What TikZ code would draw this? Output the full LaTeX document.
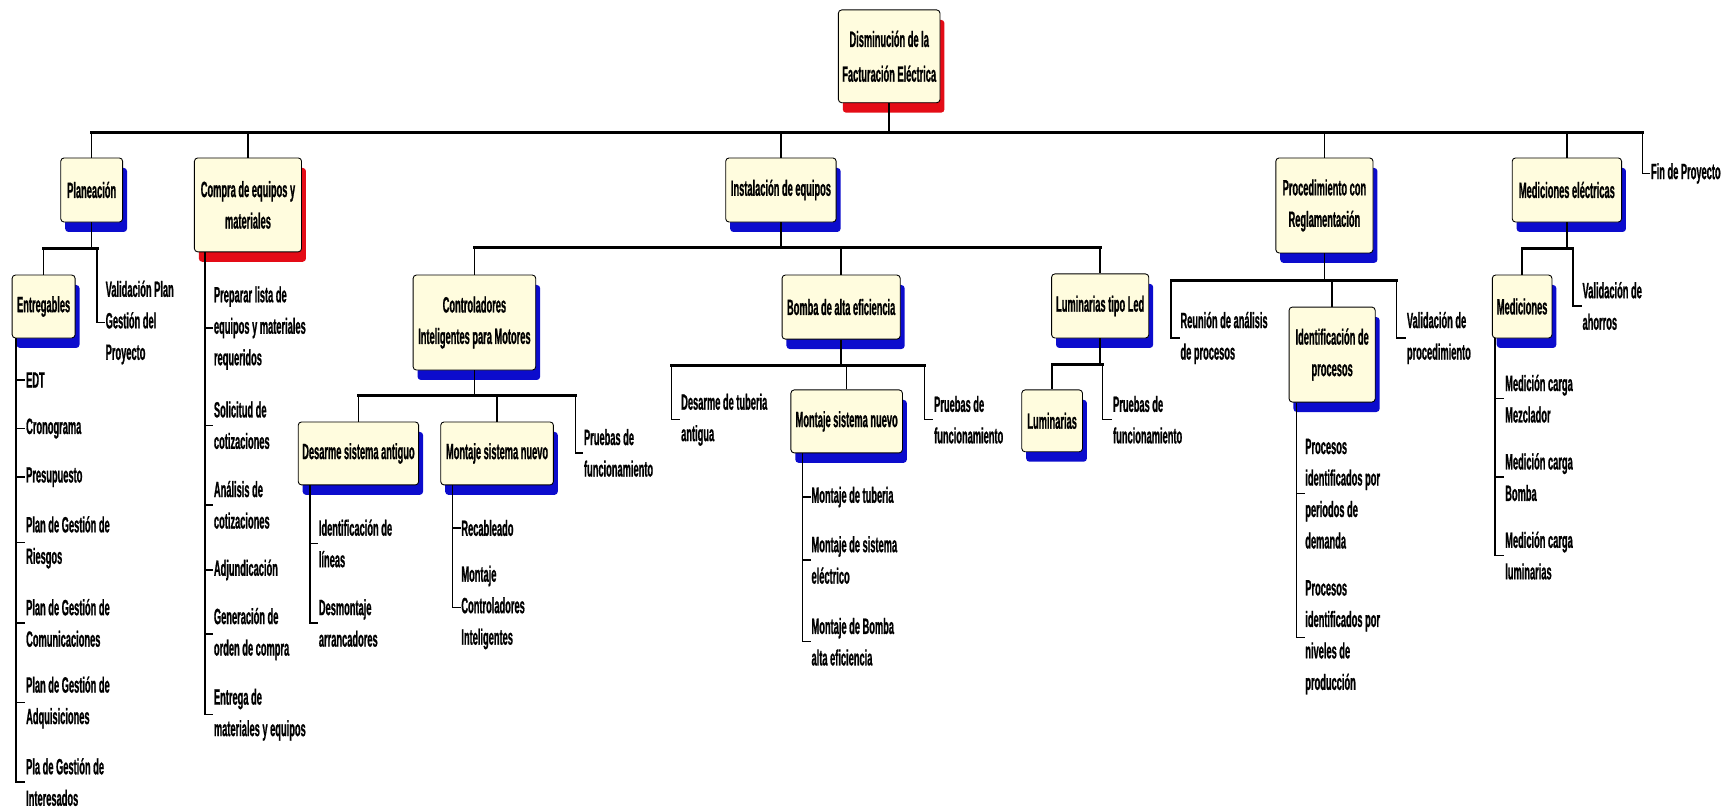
\documentclass[tikz,border=0pt]{standalone}
\usepackage{fontspec}
\newfontfamily\wbs{Liberation Sans}[FakeStretch=0.42, BoldFeatures={FakeBold=0.8}]
\usetikzlibrary{shadows}
\definecolor{cream}{RGB}{255,252,222}
\definecolor{shblue}{RGB}{12,12,205}
\definecolor{shred}{RGB}{228,12,22}
\begin{document}
\begin{tikzpicture}[x=1pt,y=-1pt,
  txt/.style={font=\wbs\bfseries\fontsize{20}{28.5}\selectfont},
  wbox/.style={txt, draw=black, line width=0.8pt, rounded corners=3pt,
    fill=cream, align=center, inner sep=0pt,
    general shadow={fill=#1, shadow xshift=4pt, shadow yshift=-9pt}},
  wbox/.default=shblue,
  leaf/.style={txt, anchor=west, align=left, inner sep=0.5pt},
  bar/.style={line width=2.4pt, line cap=rect},
  conn/.style={line width=1.3pt},
]
\useasboundingbox (0,0) rectangle (1568,733);

% ---------- boxes ----------
\node[wbox=shred, minimum width=92pt, minimum height=84pt] (root) at (805,51)
  {Disminución de la\\[3pt]Facturación Eléctrica};

\node[wbox, minimum width=56pt, minimum height=58pt] (plan) at (83,172) {Planeación};
\node[wbox=shred, minimum width=97pt, minimum height=85pt] (compra) at (224.5,185.5)
  {Compra de equipos y\\materiales};
\node[wbox, minimum width=100pt, minimum height=58pt] (inst) at (707,172) {Instalación de equipos};
\node[wbox, minimum width=88pt, minimum height=86pt] (proc) at (1199,186)
  {Procedimiento con\\Reglamentación};
\node[wbox, minimum width=99pt, minimum height=58pt] (medel) at (1418.5,172) {Mediciones eléctricas};
\node[leaf] (fin) at (1494,157) {Fin de Proyecto};

\node[wbox, minimum width=57pt, minimum height=57pt] (ent) at (39.5,277.5) {Entregables};
\node[wbox, minimum width=111pt, minimum height=86pt] (ctrl) at (429.5,292)
  {Controladores\\Inteligentes para Motores};
\node[wbox, minimum width=107pt, minimum height=58pt] (bomba) at (761.5,278) {Bomba de alta eficiencia};
\node[wbox, minimum width=88pt, minimum height=58pt] (lumled) at (996,277) {Luminarias tipo Led};
\node[wbox, minimum width=109pt, minimum height=57pt] (desarme) at (324.5,410.5) {Desarme sistema antiguo};
\node[wbox, minimum width=102pt, minimum height=57pt] (montc) at (450,410.5) {Montaje sistema nuevo};
\node[wbox, minimum width=101pt, minimum height=57pt] (montb) at (766.5,381.5) {Montaje sistema nuevo};
\node[wbox, minimum width=55pt, minimum height=56pt] (lum) at (952.5,381) {Luminarias};
\node[wbox, minimum width=78pt, minimum height=86pt] (ident) at (1206,321)
  {Identificación de\\procesos};
\node[wbox, minimum width=54pt, minimum height=57pt] (medic) at (1378,277.5) {Mediciones};

% ---------- leaves ----------
\node[leaf] (valplan) at (95,292) {Validación Plan\\Gestión del\\Proyecto};

\node[leaf] (edt) at (23,344) {EDT};
\node[leaf] (crono) at (23,388) {Cronograma};
\node[leaf] (presu) at (23,432) {Presupuesto};
\node[leaf] (riesg) at (23,491) {Plan de Gestión de\\Riesgos};
\node[leaf] (comun) at (23,564) {Plan de Gestión de\\Comunicaciones};
\node[leaf] (adqui) at (23,636) {Plan de Gestión de\\Adquisiciones};
\node[leaf] (inter) at (23,708) {Pla de Gestión de\\Interesados};

\node[leaf] (prep) at (193,297) {Preparar lista de\\equipos y materiales\\requeridos};
\node[leaf] (solic) at (193,385) {Solicitud de\\cotizaciones};
\node[leaf] (anal) at (193,457) {Análisis de\\cotizaciones};
\node[leaf] (adj) at (193,516) {Adjundicación};
\node[leaf] (gener) at (193,574) {Generación de\\orden de compra};
\node[leaf] (entre) at (193,647) {Entrega de\\materiales y equipos};

\node[leaf] (pru1) at (528,410) {Pruebas de\\funcionamiento};
\node[leaf] (identl) at (288,492) {Identificación de\\líneas};
\node[leaf] (desmo) at (288,564) {Desmontaje\\arrancadores};
\node[leaf] (recab) at (417,478) {Recableado};
\node[leaf] (montctrl) at (417,550) {Montaje\\Controladores\\Inteligentes};

\node[leaf] (destub) at (616,380) {Desarme de tuberia\\antigua};
\node[leaf] (pru2) at (845,380) {Pruebas de\\funcionamiento};
\node[leaf] (mtub) at (734,450) {Montaje de tuberia};
\node[leaf] (msis) at (734,507) {Montaje de sistema\\eléctrico};
\node[leaf] (mbom) at (734,581) {Montaje de Bomba\\alta eficiencia};

\node[leaf] (pru3) at (1007,380) {Pruebas de\\funcionamiento};

\node[leaf] (reun) at (1068,306) {Reunión de análisis\\de procesos};
\node[leaf] (valproc) at (1273,306) {Validación de\\procedimiento};
\node[leaf] (pper) at (1181,447) {Procesos\\identificados por\\periodos de\\demanda};
\node[leaf] (pniv) at (1181,577) {Procesos\\identificados por\\niveles de\\producción};

\node[leaf] (valah) at (1432,277) {Validación de\\ahorros};
\node[leaf] (mmez) at (1362,361) {Medición carga\\Mezclador};
\node[leaf] (mbomb) at (1362,432) {Medición carga\\Bomba};
\node[leaf] (mlum) at (1362,503) {Medición carga\\luminarias};

% ---------- bar end points ----------
\coordinate (kfin) at (1487,120);
\coordinate (kvp) at (88,225);
\coordinate (kins) at (996,224);
\coordinate (kpr1) at (521,358);
\coordinate (kdt) at (608,331);
\coordinate (kpr2) at (837,331);
\coordinate (kpr3) at (998,330);
\coordinate (kreu) at (1060,254);
\coordinate (kvpr) at (1264,254);
\coordinate (kvah) at (1424,225);

% ---------- main level ----------
\draw[bar] (plan.north |- kfin) -- (kfin);
\draw[conn] (root.south) -- (root.south |- kfin);
\foreach \n in {plan,compra,inst,proc,medel}
  \draw[conn] (\n.north |- kfin) -- (\n.north);
\draw[conn] (kfin) |- (fin.west);

% ---------- Planeación ----------
\draw[bar] (ent.north |- kvp) -- (kvp);
\draw[conn] (plan.south) -- (plan.south |- kvp);
\draw[conn] (ent.north |- kvp) -- (ent.north);
\draw[conn] (kvp) |- (valplan.west);
\foreach \n in {edt,crono,presu,riesg,comun,adqui,inter}
  \draw[conn] ([xshift=4pt]ent.south west) |- (\n.west);

% ---------- Compra ----------
\foreach \n in {prep,solic,anal,adj,gener,entre}
  \draw[conn] ([xshift=10pt]compra.south west) |- (\n.west);

% ---------- Instalación ----------
\draw[bar] (ctrl.north |- kins) -- (kins);
\draw[conn] (inst.south) -- (inst.south |- kins);
\foreach \n in {ctrl,bomba,lumled}
  \draw[conn] (\n.north |- kins) -- (\n.north);

% Controladores
\draw[bar] (desarme.north |- kpr1) -- (kpr1);
\draw[conn] (ctrl.south) -- (ctrl.south |- kpr1);
\foreach \n in {desarme,montc}
  \draw[conn] (\n.north |- kpr1) -- (\n.north);
\draw[conn] (kpr1) |- (pru1.west);
\foreach \n in {identl,desmo}
  \draw[conn] ([xshift=11pt]desarme.south west) |- (\n.west);
\foreach \n in {recab,montctrl}
  \draw[conn] ([xshift=11pt]montc.south west) |- (\n.west);

% Bomba
\draw[bar] (kdt) -- (kpr2);
\draw[conn] (bomba.south) -- (bomba.south |- kdt);
\draw[conn] (montb.north |- kdt) -- (montb.north);
\draw[conn] (kdt) |- (destub.west);
\draw[conn] (kpr2) |- (pru2.west);
\foreach \n in {mtub,msis,mbom}
  \draw[conn] ([xshift=11pt]montb.south west) |- (\n.west);

% Luminarias
\draw[bar] (lum.north |- kpr3) -- (kpr3);
\draw[conn] (lumled.south) -- (lumled.south |- kpr3);
\draw[conn] (lum.north |- kpr3) -- (lum.north);
\draw[conn] (kpr3) |- (pru3.west);

% ---------- Procedimiento ----------
\draw[bar] (kreu) -- (kvpr);
\draw[conn] (proc.south) -- (proc.south |- kreu);
\draw[conn] (ident.north |- kreu) -- (ident.north);
\draw[conn] (kreu) |- (reun.west);
\draw[conn] (kvpr) |- (valproc.west);
\foreach \n in {pper,pniv}
  \draw[conn] ([xshift=7pt]ident.south west) |- (\n.west);

% ---------- Mediciones ----------
\draw[bar] (medic.north |- kvah) -- (kvah);
\draw[conn] (medel.south) -- (medel.south |- kvah);
\draw[conn] (medic.north |- kvah) -- (medic.north);
\draw[conn] (kvah) |- (valah.west);
\foreach \n in {mmez,mbomb,mlum}
  \draw[conn] ([xshift=3pt]medic.south west) |- (\n.west);
\end{tikzpicture}
\end{document}
